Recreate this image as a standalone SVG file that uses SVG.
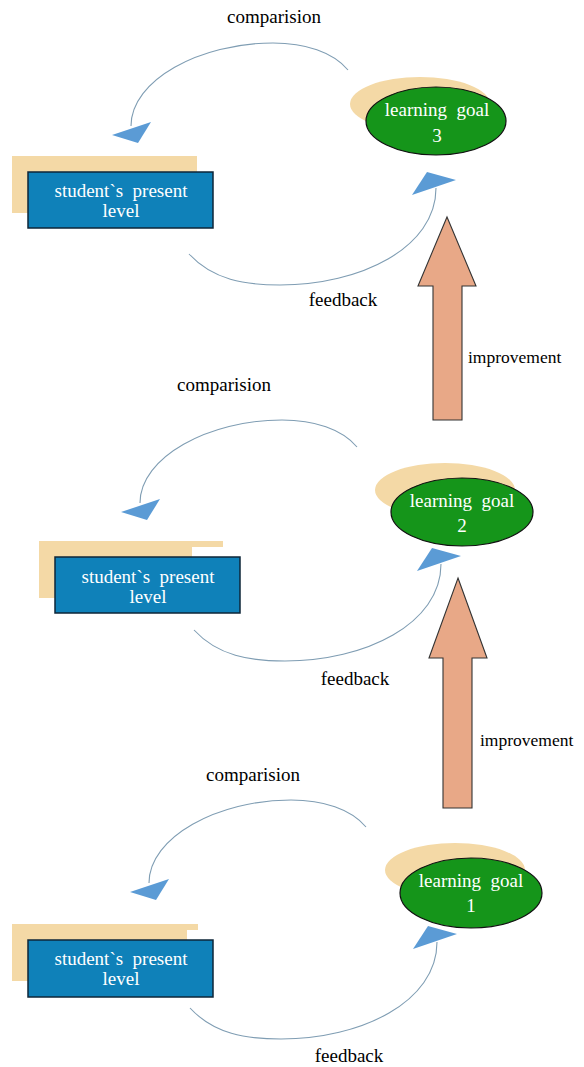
<svg xmlns="http://www.w3.org/2000/svg" width="584" height="1067" viewBox="0 0 584 1067">
<style>
text{font-family:"Liberation Serif","Times New Roman",serif;font-size:19px;text-anchor:middle;white-space:pre}
.lbl{fill:#000}
.imp{font-size:17.5px;text-anchor:start}
.wt{fill:#fff}
.shadow{fill:#f4d9a6}
.box{fill:#0f81b9;stroke:#0e2638;stroke-width:1.5}
.goal{fill:#15951a;stroke:#111;stroke-width:1.2}
.arc{fill:none;stroke:#7f9db3;stroke-width:1.1}
.head{fill:#5b9bd5}
.big{fill:#e8a887;stroke:#333;stroke-width:1.1}
</style>
<rect width="584" height="1067" fill="#fff"/>

<g id="connectors">
  <path id="cmpArc3" class="arc" d="M348,70 C333,52 305,43 273,43 C200,43 131,80 131,126"/>
  <polygon class="head" points="112,135 151,122 138,143"/>
  <path id="fbArc3" class="arc" d="M189,254 C213,280 245,285 280,285 C360,285 436,248 436,188"/>
  <polygon class="head" points="412,195 427,172 456,180"/>

  <g transform="translate(9,377)">
    <path class="arc" d="M348,70 C333,52 305,43 273,43 C200,43 131,80 131,126"/>
    <polygon class="head" points="112,135 151,122 138,143"/>
  </g>
  <g transform="translate(5,376)">
    <path class="arc" d="M189,254 C213,280 245,285 280,285 C360,285 436,248 436,188"/>
    <polygon class="head" points="412,195 427,172 456,180"/>
  </g>

  <g transform="translate(18,757)">
    <path class="arc" d="M348,70 C333,52 305,43 273,43 C200,43 131,80 131,126"/>
    <polygon class="head" points="112,135 151,122 138,143"/>
  </g>
  <g transform="translate(1,754)">
    <path class="arc" d="M189,254 C213,280 245,285 280,285 C360,285 436,248 436,188"/>
    <polygon class="head" points="412,195 427,172 456,180"/>
  </g>

  <g id="improve1">
    <polygon class="big" points="447,217 476,286 462,286 462,420 433,420 433,286 418,286"/>
    <text class="lbl imp" x="468" y="363">improvement</text>
  </g>
  <g id="improve2">
    <polygon class="big" points="458,578 487,658 472,658 472,808 443,808 443,658 429,658"/>
    <text class="lbl imp" x="480" y="746">improvement</text>
  </g>

  <text class="lbl" x="274" y="23">comparision</text>
  <text class="lbl" x="343" y="306">feedback</text>
  <text class="lbl" x="224" y="391">comparision</text>
  <text class="lbl" x="355" y="685">feedback</text>
  <text class="lbl" x="253" y="781">comparision</text>
  <text class="lbl" x="349" y="1062">feedback</text>
</g>

<g id="present3">
  <rect class="shadow" x="12" y="156" width="185" height="57"/>
  <rect class="box" x="28" y="172" width="185" height="56"/>
  <text class="wt" x="121" y="197">student`s  present</text>
  <text class="wt" x="121" y="217">level</text>
</g>
<g id="goal3">
  <ellipse class="shadow" cx="420" cy="104" rx="70" ry="27"/>
  <ellipse class="goal" cx="436" cy="121" rx="70" ry="34"/>
  <text class="wt" x="437" y="116">learning  goal</text>
  <text class="wt" x="437" y="142">3</text>
</g>

<g id="present2">
  <rect class="shadow" x="39" y="541" width="153" height="57"/>
  <rect class="shadow" x="39" y="541" width="184" height="6"/>
  <rect class="box" x="55" y="557" width="185" height="56"/>
  <text class="wt" x="148" y="583">student`s  present</text>
  <text class="wt" x="148" y="603">level</text>
</g>
<g id="goal2">
  <ellipse class="shadow" cx="445" cy="490" rx="70" ry="27"/>
  <ellipse class="goal" cx="462" cy="512" rx="71" ry="34"/>
  <text class="wt" x="462" y="507">learning  goal</text>
  <text class="wt" x="462" y="532">2</text>
</g>

<g id="present1">
  <rect class="shadow" x="12" y="924" width="175" height="57"/>
  <rect class="shadow" x="12" y="924" width="186" height="6"/>
  <rect class="box" x="28" y="940" width="185" height="57"/>
  <text class="wt" x="121" y="965">student`s  present</text>
  <text class="wt" x="121" y="985">level</text>
</g>
<g id="goal1">
  <ellipse class="shadow" cx="455" cy="870" rx="70" ry="27"/>
  <ellipse class="goal" cx="471" cy="893" rx="71" ry="35"/>
  <text class="wt" x="471" y="887">learning  goal</text>
  <text class="wt" x="471" y="912">1</text>
</g>
</svg>
